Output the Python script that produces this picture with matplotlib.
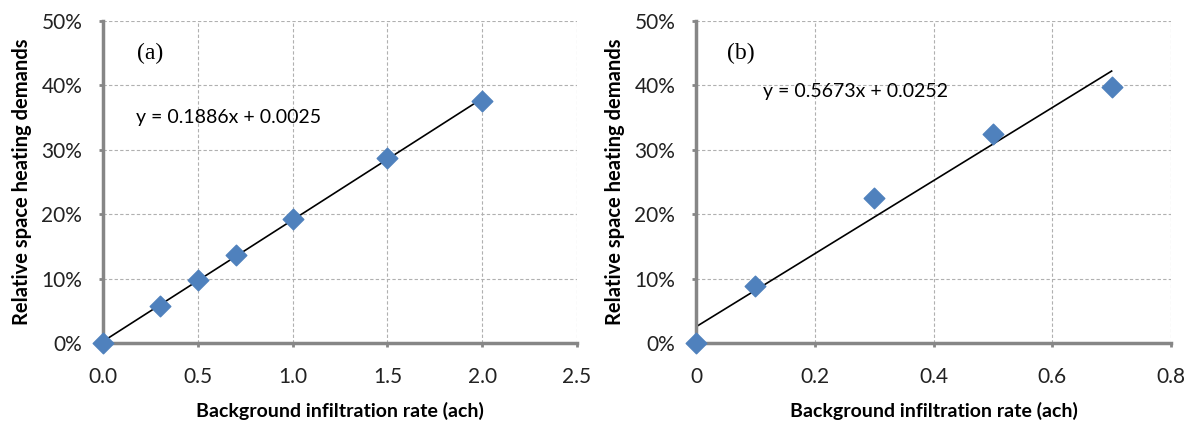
import matplotlib
matplotlib.use("Agg")
import matplotlib.pyplot as plt
from matplotlib.ticker import PercentFormatter, MultipleLocator

# panel (a)
xa = [0.0, 0.3, 0.5, 0.7, 1.0, 1.5, 2.0]
ya = [0.0, 0.058, 0.098, 0.136, 0.193, 0.287, 0.376]
fit_a = (0.1886, 0.0025)

# panel (b)
xb = [0.0, 0.1, 0.3, 0.5, 0.7]
yb = [0.0, 0.088, 0.225, 0.325, 0.398]
fit_b = (0.5673, 0.0252)

xlabel = "Background infiltration rate (ach)"
ylabel = "Relative space heating demands"

plt.rcParams['font.family'] = ['Lato', 'DejaVu Sans']

fig = plt.figure(figsize=(11.91, 4.24), dpi=100)
ax1 = fig.add_axes([0.0865, 0.191, 0.398, 0.7594])
ax2 = fig.add_axes([0.5844, 0.191, 0.3988, 0.7594])

def style(ax, xmax, xstep, xfmt):
    ax.set_xlim(0, xmax)
    ax.set_ylim(0, 0.5)
    ax.xaxis.set_major_locator(MultipleLocator(xstep))
    ax.yaxis.set_major_locator(MultipleLocator(0.1))
    ax.yaxis.set_major_formatter(PercentFormatter(1.0, decimals=0))
    ax.xaxis.set_major_formatter(xfmt)
    ax.grid(True, linestyle=(0, (3, 2)), color='#b0b0b0', linewidth=0.8)
    ax.set_axisbelow(True)
    for s in ['top', 'right']:
        ax.spines[s].set_visible(False)
    for s in ['left', 'bottom']:
        ax.spines[s].set_color('#868686')
        ax.spines[s].set_linewidth(2.5)
    ax.tick_params(colors='#868686', width=2, length=3, labelsize=15, labelcolor='#222222')
    ax.tick_params(axis='y', pad=12)
    ax.tick_params(axis='x', pad=14)
    ax.set_xlabel(xlabel, fontsize=14, fontweight='bold', labelpad=11)
    ax.set_ylabel(ylabel, fontsize=14.5, fontweight='bold', labelpad=7)

style(ax1, 2.5, 0.5, plt.FuncFormatter(lambda v, p: f"{v:.1f}"))
style(ax2, 0.8, 0.2, plt.FuncFormatter(lambda v, p: "0" if v == 0 else f"{v:.1f}"))

for ax, x, y, fit, tag, tag_x, eq_pos in [
        (ax1, xa, ya, fit_a, "(a)", 0.072, (0.07, 0.70)),
        (ax2, xb, yb, fit_b, "(b)", 0.065, (0.14, 0.78))]:
    m, c = fit
    x0, x1 = min(x), max(x)
    ax.plot([x0, x1], [m * x0 + c, m * x1 + c], color='black', linewidth=1.2, zorder=2)
    ax.scatter(x, y, marker='D', s=110, color='#4f81bd', zorder=3, clip_on=False)
    ax.text(tag_x, 0.90, tag, transform=ax.transAxes,
            fontsize=17, family='Liberation Serif', va='center')
    ax.text(eq_pos[0], eq_pos[1], f"y = {m:.4f}x + {c:.4f}", transform=ax.transAxes,
            fontsize=14, va='center')

fig.savefig("out.png", dpi=100)
